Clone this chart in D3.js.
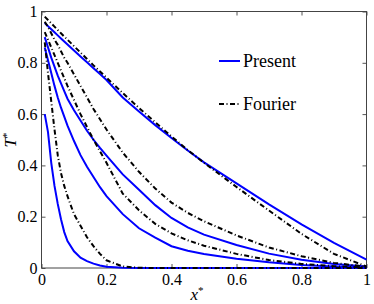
<!DOCTYPE html>
<html>
<head>
<meta charset="utf-8">
<script src="https://cdn.jsdelivr.net/npm/d3@7"></script>
<style>
  body { margin: 0; background: #fff; }
</style>
</head>
<body>
<svg id="chart" width="374" height="304"></svg>
<script>
// x* grid shared by all curves
var xGrid = [0.01, 0.02, 0.03, 0.04, 0.05, 0.06, 0.07, 0.08, 0.1, 0.12, 0.14, 0.16, 0.18, 0.2,
             0.25, 0.3, 0.35, 0.4, 0.45, 0.5, 0.6, 0.7, 0.8, 0.9, 1.0];

// Present model, T* values
var present1 = [0.955, 0.943, 0.931, 0.919, 0.907, 0.895, 0.883, 0.871, 0.848, 0.825, 0.802, 0.779, 0.756, 0.733,
                0.665, 0.61, 0.557, 0.507, 0.458, 0.412, 0.33, 0.248, 0.17, 0.098, 0.033];
var present2 = [0.90, 0.86, 0.82, 0.785, 0.75, 0.72, 0.69, 0.66, 0.615, 0.575, 0.535, 0.5, 0.468, 0.438,
                0.365, 0.305, 0.245, 0.195, 0.158, 0.13, 0.09, 0.056, 0.032, 0.016, 0.006];
var present3 = [0.86, 0.81, 0.76, 0.71, 0.665, 0.625, 0.59, 0.555, 0.495, 0.44, 0.395, 0.355, 0.315, 0.28,
                0.21, 0.155, 0.118, 0.085, 0.067, 0.055, 0.036, 0.022, 0.012, 0.006, 0.002];
var present4 = [0.60, 0.53, 0.41, 0.32, 0.25, 0.19, 0.14, 0.105, 0.065, 0.04, 0.027, 0.017, 0.01, 0.005,
                0.001, 0, 0, 0, 0, 0, 0, 0, 0, 0, 0];

// Fourier model, T* values
var fourier1 = [0.98, 0.967, 0.954, 0.941, 0.928, 0.915, 0.902, 0.89, 0.865, 0.84, 0.815, 0.79, 0.766, 0.742,
                0.682, 0.624, 0.568, 0.513, 0.46, 0.41, 0.316, 0.224, 0.133, 0.055, 0.006];
var fourier2 = [0.96, 0.94, 0.915, 0.89, 0.87, 0.845, 0.82, 0.8, 0.755, 0.71, 0.665, 0.62, 0.58, 0.54,
                0.45, 0.375, 0.31, 0.255, 0.215, 0.182, 0.127, 0.08, 0.046, 0.02, 0.005];
var fourier3 = [0.92, 0.89, 0.86, 0.83, 0.8, 0.77, 0.74, 0.71, 0.655, 0.6, 0.55, 0.5, 0.455, 0.41,
                0.29, 0.225, 0.172, 0.135, 0.108, 0.087, 0.055, 0.031, 0.016, 0.007, 0.002];
var fourier4 = [0.88, 0.76, 0.65, 0.54, 0.44, 0.37, 0.32, 0.28, 0.21, 0.165, 0.12, 0.085, 0.055, 0.03,
                0.006, 0.001, 0, 0, 0, 0, 0, 0, 0, 0, 0];

var tickVals = [0, 0.2, 0.4, 0.6, 0.8, 1];
var tickLabels = ["0", "0.2", "0.4", "0.6", "0.8", "1"];

var legendItems = [{name: "Present", color: "#0000ff", dash: null},
                   {name: "Fourier", color: "#000", dash: "5,2.5,1,2.5"}];

var serif = "'Liberation Serif', 'DejaVu Serif', serif";

var svg = d3.select("#chart");

var plotL = 41.5, plotR = 366.5, plotT = 11.5, plotB = 268;

var x = d3.scaleLinear().domain([0, 1]).range([plotL, plotR]);
var y = d3.scaleLinear().domain([0, 1]).range([plotB, plotT]);

var line = d3.line()
  .x(function(d){ return x(d[0]) })
  .y(function(d){ return y(d[1]) });

function pairs(vals){
  return xGrid.map(function(v, i){ return [v, vals[i]] })
}

// axes, ticks pointing inward
function fmt(d){ return tickLabels[tickVals.indexOf(d)] }

svg.append("g")
   .attr("transform", "translate(0," + plotB + ")")
   .call(d3.axisBottom(x).tickValues(tickVals).tickFormat(fmt).tickSizeInner(-4).tickSizeOuter(0).tickPadding(6));

svg.append("g")
   .attr("transform", "translate(" + plotL + ",0)")
   .call(d3.axisLeft(y).tickValues(tickVals).tickFormat(fmt).tickSizeInner(-4).tickSizeOuter(0).tickPadding(4));

svg.append("g")
   .attr("transform", "translate(0," + plotT + ")")
   .call(d3.axisTop(x).tickValues(tickVals).tickFormat("").tickSizeInner(-4).tickSizeOuter(0));

svg.append("g")
   .attr("transform", "translate(" + plotR + ",0)")
   .call(d3.axisRight(y).tickValues(tickVals).tickFormat("").tickSizeInner(-4).tickSizeOuter(0));

svg.selectAll(".domain").remove();
svg.selectAll(".tick line").attr("stroke", "#555");
svg.selectAll(".tick text")
   .attr("font-family", serif)
   .attr("font-size", 16)
   .attr("fill", "#000");

svg.append("rect")
   .attr("x", plotL).attr("y", plotT)
   .attr("width", plotR - plotL).attr("height", plotB - plotT)
   .attr("fill", "none").attr("stroke", "#444").attr("stroke-width", 1);

// curves
var presentSeries = [present1, present2, present3, present4];
var fourierSeries = [fourier1, fourier2, fourier3, fourier4];

svg.append("g").selectAll("path")
   .data(presentSeries)
   .enter()
   .append("path")
   .attr("d", function(d){ return line(pairs(d)) })
   .attr("fill", "none")
   .attr("stroke", "#0000ff")
   .attr("stroke-width", 2);

svg.append("g").selectAll("path")
   .data(fourierSeries)
   .enter()
   .append("path")
   .attr("d", function(d){ return line(pairs(d)) })
   .attr("fill", "none")
   .attr("stroke", "#000")
   .attr("stroke-width", 2)
   .attr("stroke-dasharray", "5,2.5,1,2.5");

// legend
var leg = svg.append("g").selectAll("g")
   .data(legendItems)
   .enter()
   .append("g")
   .attr("transform", function(d, i){ return "translate(219," + (61 + i * 43) + ")" });

leg.append("line")
   .attr("x1", 0).attr("x2", 21)
   .attr("stroke", function(d){ return d.color })
   .attr("stroke-width", 2)
   .attr("stroke-dasharray", function(d){ return d.dash });

leg.append("text")
   .attr("x", 24)
   .attr("y", 6)
   .attr("font-family", serif)
   .attr("font-size", 18)
   .text(function(d){ return d.name });

// axis labels
var xl = svg.append("text")
   .attr("x", 197).attr("y", 300)
   .attr("text-anchor", "middle")
   .attr("font-family", serif)
   .attr("font-size", 17);
xl.append("tspan").attr("font-style", "italic").text("x");
xl.append("tspan").attr("dy", -6).attr("font-size", 11).text("*");

var yl = svg.append("text")
   .attr("transform", "translate(16,140) rotate(-90)")
   .attr("text-anchor", "middle")
   .attr("font-family", serif)
   .attr("font-size", 17);
yl.append("tspan").attr("font-style", "italic").text("T");
yl.append("tspan").attr("dy", -6).attr("font-size", 11).text("*");
</script>
</body>
</html>
